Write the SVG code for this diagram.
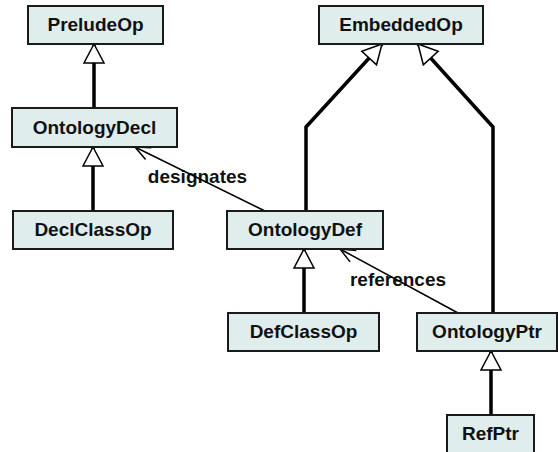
<svg xmlns="http://www.w3.org/2000/svg" width="558" height="452" viewBox="0 0 558 452">
<style>
.box{fill:#e0eded;stroke:#1a1a1a;stroke-width:2}
.lbl{font-family:"Liberation Sans",Arial,sans-serif;font-weight:bold;font-size:19px;fill:#111;text-anchor:middle}
.gen{fill:none;stroke:#000;stroke-width:3.5}
.assoc{fill:none;stroke:#000;stroke-width:1.5}
</style>
<defs>
<marker id="tri" markerUnits="userSpaceOnUse" markerWidth="24" markerHeight="24" viewBox="-21 -12 24 24" refX="0" refY="0" orient="auto">
<path d="M0,0 L-19,-10 L-19,10 Z" fill="#fff" stroke="#000" stroke-width="1.5"/>
</marker>
<marker id="vee" markerUnits="userSpaceOnUse" markerWidth="20" markerHeight="20" viewBox="-16 -10 20 20" refX="0" refY="0" orient="auto">
<path d="M-15,-6.5 L0,0 L-15,6.5" fill="none" stroke="#000" stroke-width="1.5"/>
</marker>
</defs>
<g id="connectors">
<text class="lbl" x="197.5" y="183">designates</text>
<text class="lbl" x="398" y="286">references</text>
<path class="gen" d="M94,108 L94,44" marker-end="url(#tri)"/>
<path class="gen" d="M93,211 L93,147" marker-end="url(#tri)"/>
<path class="gen" d="M306,211 L306,127 L382,44" marker-end="url(#tri)"/>
<path class="gen" d="M493,313 L493,127 L418,44" marker-end="url(#tri)"/>
<path class="gen" d="M304,313 L304,249" marker-end="url(#tri)"/>
<path class="gen" d="M491,415 L491,351" marker-end="url(#tri)"/>
<path class="assoc" d="M265,211 L135,147" marker-end="url(#vee)"/>
<path class="assoc" d="M458,313 L340,249" marker-end="url(#vee)"/>
</g>
<g id="PreludeOp"><rect class="box" x="28" y="6" width="135" height="38"/><text class="lbl" x="95.5" y="31">PreludeOp</text></g>
<g id="OntologyDecl"><rect class="box" x="12" y="108" width="165" height="39"/><text class="lbl" x="94.5" y="134">OntologyDecl</text></g>
<g id="DeclClassOp"><rect class="box" x="13" y="211" width="160" height="38"/><text class="lbl" x="93" y="236">DeclClassOp</text></g>
<g id="EmbeddedOp"><rect class="box" x="319" y="6" width="164" height="38"/><text class="lbl" x="401" y="31">EmbeddedOp</text></g>
<g id="OntologyDef"><rect class="box" x="227" y="211" width="156" height="38"/><text class="lbl" x="305" y="236">OntologyDef</text></g>
<g id="DefClassOp"><rect class="box" x="228" y="313" width="151" height="38"/><text class="lbl" x="303.5" y="338">DefClassOp</text></g>
<g id="OntologyPtr"><rect class="box" x="417" y="313" width="140" height="38"/><text class="lbl" x="487" y="338">OntologyPtr</text></g>
<g id="RefPtr"><rect class="box" x="447" y="415" width="87" height="40"/><text class="lbl" x="490.5" y="440">RefPtr</text></g>
</svg>
